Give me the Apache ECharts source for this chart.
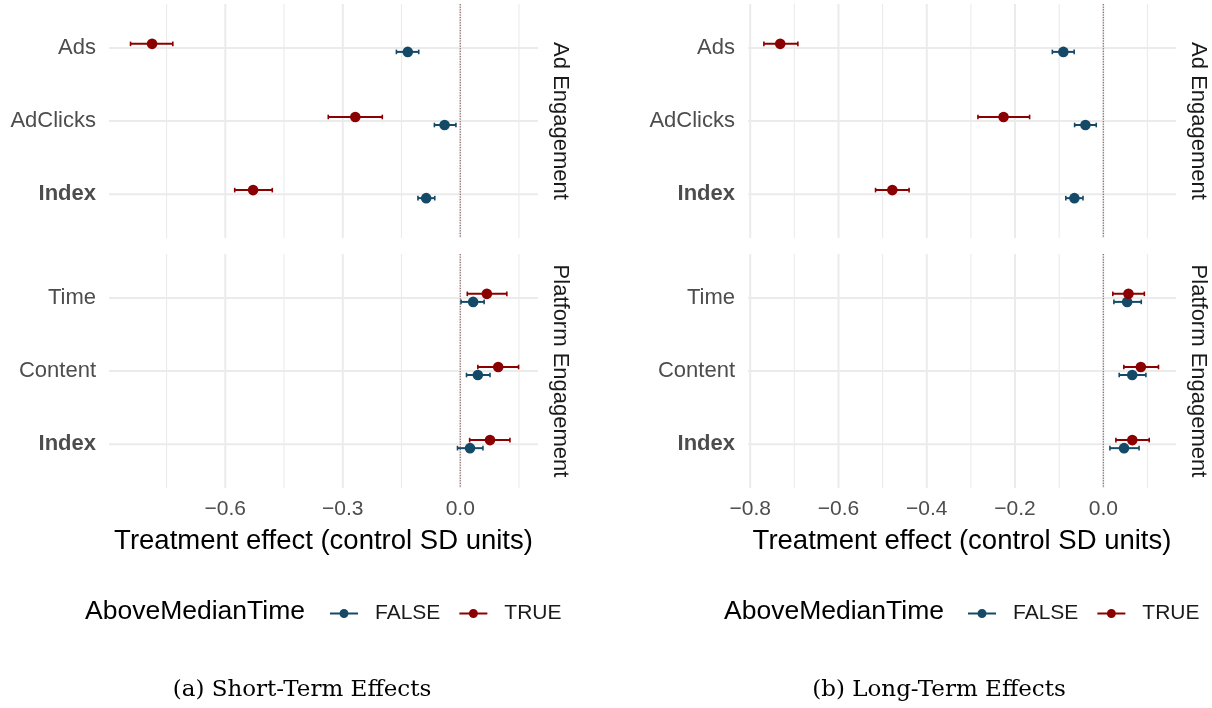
<!DOCTYPE html>
<html><head><meta charset="utf-8">
<script src="https://cdn.jsdelivr.net/npm/echarts@6/dist/echarts.min.js"></script>
<style>html,body{margin:0;padding:0;background:#fff}#c{width:1212px;height:708px}</style>
</head><body><div id="c"></div>
<script>
// ---------- data ----------
const adCats = ['Ads', 'AdClicks', 'Index'];
const platCats = ['Time', 'Content', 'Index'];
const groups = ['FALSE', 'TRUE'];

// Short-term (panel a)
const stAdFalseEst = [-0.134, -0.040, -0.087];
const stAdFalseLo  = [-0.163, -0.066, -0.108];
const stAdFalseHi  = [-0.106, -0.011, -0.065];
const stAdTrueEst  = [-0.787, -0.268, -0.529];
const stAdTrueLo   = [-0.842, -0.337, -0.576];
const stAdTrueHi   = [-0.734, -0.199, -0.480];
const stPlFalseEst = [0.033, 0.045, 0.025];
const stPlFalseLo  = [0.002, 0.016, -0.007];
const stPlFalseHi  = [0.061, 0.076, 0.058];
const stPlTrueEst  = [0.068, 0.097, 0.076];
const stPlTrueLo   = [0.018, 0.045, 0.024];
const stPlTrueHi   = [0.119, 0.149, 0.127];

// Long-term (panel b)
const ltAdFalseEst = [-0.0905, -0.0405, -0.0655];
const ltAdFalseLo  = [-0.1155, -0.065, -0.085];
const ltAdFalseHi  = [-0.066, -0.016, -0.046];
const ltAdTrueEst  = [-0.732, -0.226, -0.478];
const ltAdTrueLo   = [-0.769, -0.284, -0.516];
const ltAdTrueHi   = [-0.692, -0.167, -0.440];
const ltPlFalseEst = [0.054, 0.0655, 0.047];
const ltPlFalseLo  = [0.024, 0.036, 0.015];
const ltPlFalseHi  = [0.086, 0.0965, 0.081];
const ltPlTrueEst  = [0.057, 0.085, 0.0657];
const ltPlTrueLo   = [0.0215, 0.0465, 0.0285];
const ltPlTrueHi   = [0.093, 0.125, 0.104];

// axis ticks
const stMajorTicks = [-0.6, -0.3, 0.0];
const stMinorTicks = [-0.75, -0.45, -0.15, 0.15];
const ltMajorTicks = [-0.8, -0.6, -0.4, -0.2, 0.0];
const ltMinorTicks = [-0.7, -0.5, -0.3, -0.1, 0.1];
const stRange = [-0.897, 0.1986];
const ltRange = [-0.805, 0.1647];
const rowPositions = [1, 2, 3];

const axisTitle = 'Treatment effect (control SD units)';
const legendTitle = 'AboveMedianTime';
const captions = ['(a) Short-Term Effects', '(b) Long-Term Effects'];
const strips = ['Ad Engagement', 'Platform Engagement'];

// ---------- style ----------
const COLORS = { FALSE: '#144a68', TRUE: '#8b0000' };
const DODGE = 0.055;
const FONT = 'Liberation Sans';
const GRID_COL = '#ebebeb';

const gridBoxes = [
  { left: 109, top: 4, width: 429, height: 234 },
  { left: 109, top: 254, width: 429, height: 234 },
  { left: 748, top: 4, width: 428, height: 234 },
  { left: 748, top: 254, width: 428, height: 234 }
];

function toData(est, lo, hi) {
  return est.map((v, i) => [v, lo[i], hi[i], rowPositions[i]]);
}

const panelData = [
  { cats: adCats, F: toData(stAdFalseEst, stAdFalseLo, stAdFalseHi), T: toData(stAdTrueEst, stAdTrueLo, stAdTrueHi), range: stRange, major: stMajorTicks, minor: stMinorTicks, bottom: false },
  { cats: platCats, F: toData(stPlFalseEst, stPlFalseLo, stPlFalseHi), T: toData(stPlTrueEst, stPlTrueLo, stPlTrueHi), range: stRange, major: stMajorTicks, minor: stMinorTicks, bottom: true },
  { cats: adCats, F: toData(ltAdFalseEst, ltAdFalseLo, ltAdFalseHi), T: toData(ltAdTrueEst, ltAdTrueLo, ltAdTrueHi), range: ltRange, major: ltMajorTicks, minor: ltMinorTicks, bottom: false },
  { cats: platCats, F: toData(ltPlFalseEst, ltPlFalseLo, ltPlFalseHi), T: toData(ltPlTrueEst, ltPlTrueLo, ltPlTrueHi), range: ltRange, major: ltMajorTicks, minor: ltMinorTicks, bottom: true }
];

const fmtTick = v => (v < 0 ? '\u2212' : '') + Math.abs(v).toFixed(1);

const grid = [], xAxis = [], yAxis = [], series = [];

function lineSeries(gi, vals, kind) {
  return {
    type: 'custom', name: 'g' + kind, xAxisIndex: gi, yAxisIndex: gi, silent: true,
    z: kind === 'zero' ? 4 : 1, clip: false, animation: false,
    data: vals.map(v => [v, v]),
    encode: { x: 0, y: 1 },
    renderItem: function (params, api) {
      const cs = params.coordSys;
      const v = api.value(0);
      let shape;
      if (kind === 'h') {
        const y = api.coord([0, v])[1];
        shape = { x1: cs.x, y1: y, x2: cs.x + cs.width, y2: y };
      } else {
        const x = api.coord([v, 2])[0];
        shape = { x1: x, y1: cs.y, x2: x, y2: cs.y + cs.height };
      }
      const style = kind === 'zero'
        ? { stroke: '#6e3a3a', lineWidth: 0.9, lineDash: [1.2, 1.4] }
        : { stroke: GRID_COL, lineWidth: kind === 'minor' ? 1.1 : 2 };
      return { type: 'line', shape: shape, style: style };
    }
  };
}

function pointSeries(gi, name, data) {
  const color = COLORS[name];
  return {
    type: 'custom', name: name, xAxisIndex: gi, yAxisIndex: gi, z: 3, clip: false,
    itemStyle: { color: color }, animation: false,
    data: data,
    encode: { x: [0, 1, 2], y: 3 },
    renderItem: function (params, api) {
      const est = api.value(0), lo = api.value(1), hi = api.value(2), cat = api.value(3);
      const yy = cat + (name === 'TRUE' ? -DODGE : DODGE);
      const p = api.coord([est, yy]);
      const pl = api.coord([lo, yy]);
      const ph = api.coord([hi, yy]);
      const cap = 2.3;
      return {
        type: 'group', children: [
          { type: 'line', shape: { x1: pl[0], y1: p[1], x2: ph[0], y2: p[1] }, style: { stroke: color, lineWidth: 2 } },
          { type: 'line', shape: { x1: pl[0], y1: p[1] - cap, x2: pl[0], y2: p[1] + cap }, style: { stroke: color, lineWidth: 1.6 } },
          { type: 'line', shape: { x1: ph[0], y1: p[1] - cap, x2: ph[0], y2: p[1] + cap }, style: { stroke: color, lineWidth: 1.6 } },
          { type: 'circle', shape: { cx: p[0], cy: p[1], r: 5.3 }, style: { fill: color } }
        ]
      };
    }
  };
}

panelData.forEach((pd, gi) => {
  grid.push(Object.assign({ containLabel: false }, gridBoxes[gi]));
  xAxis.push({
    type: 'value', gridIndex: gi, min: pd.range[0], max: pd.range[1],
    axisLine: { show: false }, axisTick: { show: false }, splitLine: { show: false },
    axisLabel: {
      show: pd.bottom, customValues: pd.major, formatter: fmtTick, margin: 11,
      fontFamily: FONT, fontSize: 21, color: '#4d4d4d', showMinLabel: true, showMaxLabel: true
    },
    name: pd.bottom ? axisTitle : '', nameLocation: 'middle', nameGap: 39,
    nameTextStyle: { fontFamily: FONT, fontSize: 27.5, color: '#000' }
  });
  yAxis.push({
    type: 'value', gridIndex: gi, min: 0.4, max: 3.6, inverse: true,
    axisLine: { show: false }, axisTick: { show: false }, splitLine: { show: false },
    axisLabel: {
      customValues: rowPositions, margin: 13, fontFamily: FONT, fontSize: 22, color: '#4d4d4d',
      formatter: v => {
        const n = pd.cats[Math.round(v) - 1] || '';
        return n === 'Index' ? '{b|' + n + '}' : n;
      },
      rich: { b: { fontFamily: FONT, fontSize: 22, fontWeight: 'bold', color: '#4d4d4d' } }
    }
  });
  series.push(lineSeries(gi, rowPositions, 'h'));
  series.push(lineSeries(gi, pd.minor, 'minor'));
  series.push(lineSeries(gi, pd.major, 'major'));
  series.push(lineSeries(gi, [0], 'zero'));
  series.push(pointSeries(gi, 'FALSE', pd.F));
  series.push(pointSeries(gi, 'TRUE', pd.T));
});

const iconPath = 'path://M0,3.5 L28,3.5 L28,5.5 L0,5.5 Z M9.5,4.5 A4.5,4.5 0 1,1 18.5,4.5 A4.5,4.5 0 1,1 9.5,4.5 Z';
function legendAt(left) {
  return {
    data: groups, left: left, top: 603, orient: 'horizontal', padding: 0,
    itemWidth: 28, itemHeight: 9, itemGap: 19, icon: iconPath, selectedMode: false,
    textStyle: { fontFamily: FONT, fontSize: 21, color: '#1a1a1a', padding: [0, 0, 0, 12] }
  };
}

const graphic = [
  { type: 'text', x: 85, y: 612, style: { text: legendTitle, fontFamily: FONT, fontSize: 26.5, fill: '#000', align: 'left', verticalAlign: 'middle' } },
  { type: 'text', x: 724, y: 612, style: { text: legendTitle, fontFamily: FONT, fontSize: 26.5, fill: '#000', align: 'left', verticalAlign: 'middle' } },
  { type: 'text', x: 302, y: 690, style: { text: captions[0], fontFamily: 'DejaVu Serif', fontSize: 23, fill: '#000', align: 'center', verticalAlign: 'middle' } },
  { type: 'text', x: 939, y: 690, style: { text: captions[1], fontFamily: 'DejaVu Serif', fontSize: 23, fill: '#000', align: 'center', verticalAlign: 'middle' } }
];
[[560, 121, 0], [560, 371, 1], [1198, 121, 0], [1198, 371, 1]].forEach(s => {
  graphic.push({ type: 'text', x: s[0], y: s[1], rotation: -Math.PI / 2,
    style: { text: strips[s[2]], fontFamily: FONT, fontSize: 22, fill: '#1a1a1a', align: 'center', verticalAlign: 'middle' } });
});

const chart = echarts.init(document.getElementById('c'));
chart.setOption({
  animation: false,
  backgroundColor: '#fff',
  textStyle: { fontFamily: FONT },
  grid: grid, xAxis: xAxis, yAxis: yAxis, series: series,
  legend: [legendAt(330), legendAt(968)],
  graphic: graphic
});
</script></body></html>
